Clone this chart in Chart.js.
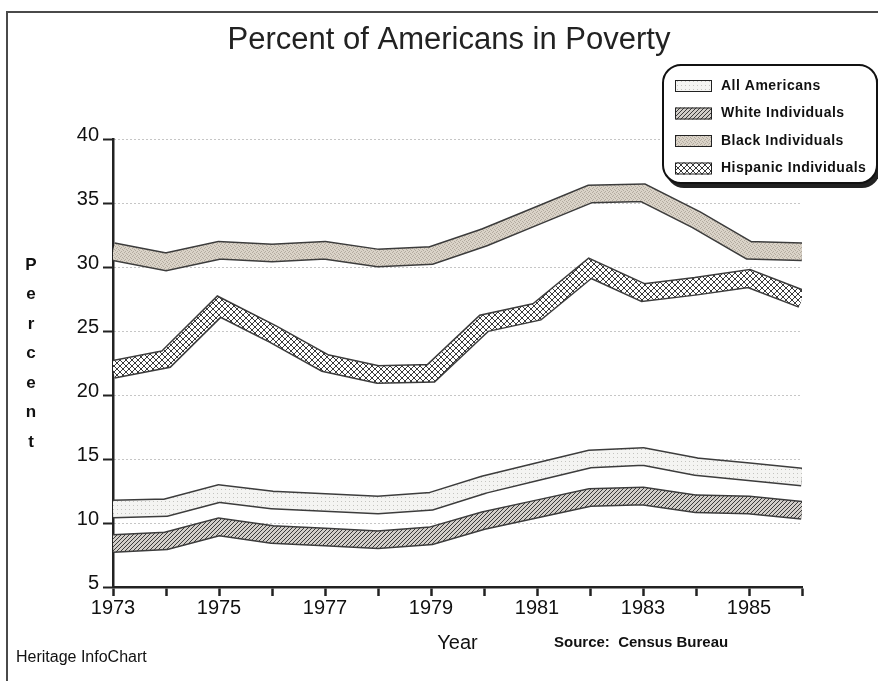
<!DOCTYPE html>
<html>
<head>
<meta charset="utf-8">
<title>Percent of Americans in Poverty</title>
<script src="https://cdn.jsdelivr.net/npm/chart.js@4.4.1/dist/chart.umd.min.js"></script>
<style>
  html, body { margin: 0; padding: 0; background: #fff; }
  #wrap { width: 878px; height: 681px; position: relative; }
</style>
</head>
<body>
<div id="wrap"><canvas id="povertyChart" width="878" height="681"></canvas></div>
<script>
// values (percent in poverty)
const years = [1973, 1974, 1975, 1976, 1977, 1978, 1979, 1980, 1981, 1982, 1983, 1984, 1985, 1986];
const allAmericans = [11.1, 11.2, 12.3, 11.8, 11.6, 11.4, 11.7, 13.0, 14.0, 15.0, 15.2, 14.4, 14.0, 13.6];
const whiteIndividuals = [8.4, 8.6, 9.7, 9.1, 8.9, 8.7, 9.0, 10.2, 11.1, 12.0, 12.1, 11.5, 11.4, 11.0];
const blackIndividuals = [31.2, 30.4, 31.3, 31.1, 31.3, 30.7, 30.9, 32.3, 34.0, 35.7, 35.8, 33.7, 31.3, 31.2];
const hispanicIndividuals = [22.0, 22.8, 26.9, 24.8, 22.5, 21.6, 21.7, 25.6, 26.5, 29.9, 28.0, 28.5, 29.1, 27.5];
const seriesLabels = ['All Americans', 'White Individuals', 'Black Individuals', 'Hispanic Individuals'];
const labeledYears = [1973, 1975, 1977, 1979, 1981, 1983, 1985];

const FONT = '"Liberation Sans", Arial, Helvetica, sans-serif';

// --- fill patterns for the bands ---
function makePattern(size, draw) {
    const c = document.createElement('canvas');
    c.width = c.height = size;
    const g = c.getContext('2d');
    draw(g, size);
    return g.createPattern(c, 'repeat');
}

const dotPattern = makePattern(4, (g, s) => {
    g.fillStyle = '#f4f4f2'; g.fillRect(0, 0, s, s);
    g.fillStyle = '#c4c4c0'; g.fillRect(1, 1, 1, 1);
});

const hatchPattern = makePattern(4, (g, s) => {
    g.fillStyle = '#d2cec9'; g.fillRect(0, 0, s, s);
    g.strokeStyle = '#3a3a3a'; g.lineWidth = 1;
    for (let o = -s; o <= s; o += s) {
        g.beginPath(); g.moveTo(o, s); g.lineTo(o + s, 0); g.stroke();
    }
});

const speckPattern = makePattern(4, (g, s) => {
    g.fillStyle = '#dad3c8'; g.fillRect(0, 0, s, s);
    g.fillStyle = '#b3ab9f';
    [[0, 0], [2, 1], [1, 3], [3, 2]].forEach(([x, y]) => g.fillRect(x, y, 1, 1));
});

const crossPattern = makePattern(6, (g, s) => {
    g.fillStyle = '#ffffff'; g.fillRect(0, 0, s, s);
    g.strokeStyle = '#3a3a3a'; g.lineWidth = 1;
    for (let o = -s; o <= s; o += s) {
        g.beginPath(); g.moveTo(o, 0); g.lineTo(o + s, s); g.stroke();
        g.beginPath(); g.moveTo(o, s); g.lineTo(o + s, 0); g.stroke();
    }
});

const seriesValues = [allAmericans, whiteIndividuals, blackIndividuals, hispanicIndividuals];
const seriesFills = [dotPattern, hatchPattern, speckPattern, crossPattern];

// each series is a wide ribbon: a dark outline stroke with a patterned stroke on top
const datasets = [];
seriesLabels.forEach((label, i) => {
    const pts = years.map((yr, j) => ({ x: yr, y: seriesValues[i][j] }));
    const common = { data: pts, pointRadius: 0, tension: 0, fill: false, borderJoinStyle: 'miter', borderCapStyle: 'butt' };
    datasets.push({ ...common, label, borderColor: seriesFills[i], backgroundColor: seriesFills[i], borderWidth: 16, order: 0 });
    datasets.push({ ...common, label: label + ' edge', borderColor: '#3c3c3c', borderWidth: 19, order: 1 });
});

// title, legend, stacked axis word, footnotes, frame
const decorations = {
    id: 'decorations',
    afterDraw(chart) {
        const ctx = chart.ctx;
        ctx.save();

        // frame (left + top edges)
        ctx.strokeStyle = '#4a4a4a';
        ctx.lineWidth = 2;
        ctx.beginPath();
        ctx.moveTo(7, 681); ctx.lineTo(7, 12); ctx.lineTo(878, 12);
        ctx.stroke();

        // title
        ctx.fillStyle = '#222';
        ctx.font = '31px ' + FONT;
        ctx.textAlign = 'center';
        ctx.textBaseline = 'middle';
        ctx.fillText('Percent of Americans in Poverty', 449, 40);

        // "Percent" written downwards
        ctx.fillStyle = '#111';
        ctx.font = 'bold 17px ' + FONT;
        'Percent'.split('').forEach((ch, i) => ctx.fillText(ch, 31, 265 + i * 29.5));

        // footnotes
        ctx.textAlign = 'left';
        ctx.font = 'bold 15px ' + FONT;
        ctx.fillText('Source:  Census Bureau', 554, 643);
        ctx.font = '16px ' + FONT;
        ctx.fillText('Heritage InfoChart', 16, 658);

        // legend box with shadow
        const bx = 663, by = 65, bw = 214, bh = 118, r = 18;
        ctx.fillStyle = '#222';
        ctx.beginPath(); ctx.roundRect(bx + 3, by + 5, bw, bh, r); ctx.fill();
        ctx.fillStyle = '#fff';
        ctx.strokeStyle = '#111';
        ctx.lineWidth = 2;
        ctx.beginPath(); ctx.roundRect(bx, by, bw, bh, r); ctx.fill(); ctx.stroke();

        ctx.font = 'bold 14px ' + FONT;
        ctx.letterSpacing = '0.5px';
        seriesLabels.forEach((label, i) => {
            const cy = 86 + i * 27.5;
            ctx.fillStyle = seriesFills[i];
            ctx.fillRect(675, cy - 6, 37, 12);
            ctx.lineWidth = 1;
            ctx.strokeStyle = '#222';
            ctx.strokeRect(675.5, cy - 5.5, 36, 11);
            ctx.fillStyle = '#111';
            ctx.fillText(label, 721, cy);
        });
        ctx.restore();
    }
};

new Chart(document.getElementById('povertyChart'), {
    type: 'line',
    data: { datasets },
    options: {
        responsive: false,
        animation: false,
        events: [],
        layout: { padding: { left: 0, top: 139, right: 76, bottom: 0 }, autoPadding: false },
        plugins: {
            legend: { display: false },
            tooltip: { enabled: false },
            title: { display: false }
        },
        scales: {
            x: {
                type: 'linear',
                min: 1973,
                max: 1986,
                grid: { drawOnChartArea: false, drawTicks: true, tickLength: 9, tickWidth: 2.5, tickColor: '#222' },
                border: { display: true, color: '#222', width: 2.5 },
                ticks: {
                    stepSize: 1,
                    autoSkip: false,
                    maxRotation: 0,
                    padding: 0,
                    color: '#111',
                    font: { size: 20, family: FONT },
                    callback: v => labeledYears.includes(v) ? String(v) : ''
                },
                title: {
                    display: true,
                    text: 'Year',
                    color: '#111',
                    font: { size: 20, family: FONT },
                    padding: { top: 26, bottom: 26 }
                },
                afterFit: s => { s.height = 94; }
            },
            y: {
                min: 5,
                max: 40,
                grid: { color: '#8c8c8c', lineWidth: 1, drawTicks: true, tickLength: 10, tickWidth: 2, tickColor: '#222', tickBorderDash: [] },
                border: { display: true, color: '#222', width: 2.5, dash: [1, 3] },
                ticks: {
                    stepSize: 5,
                    padding: 4,
                    labelOffset: -4,
                    color: '#111',
                    font: { size: 20, family: FONT }
                },
                afterFit: s => { s.width = 113; }
            }
        }
    },
    plugins: [decorations]
});
</script>
</body>
</html>
